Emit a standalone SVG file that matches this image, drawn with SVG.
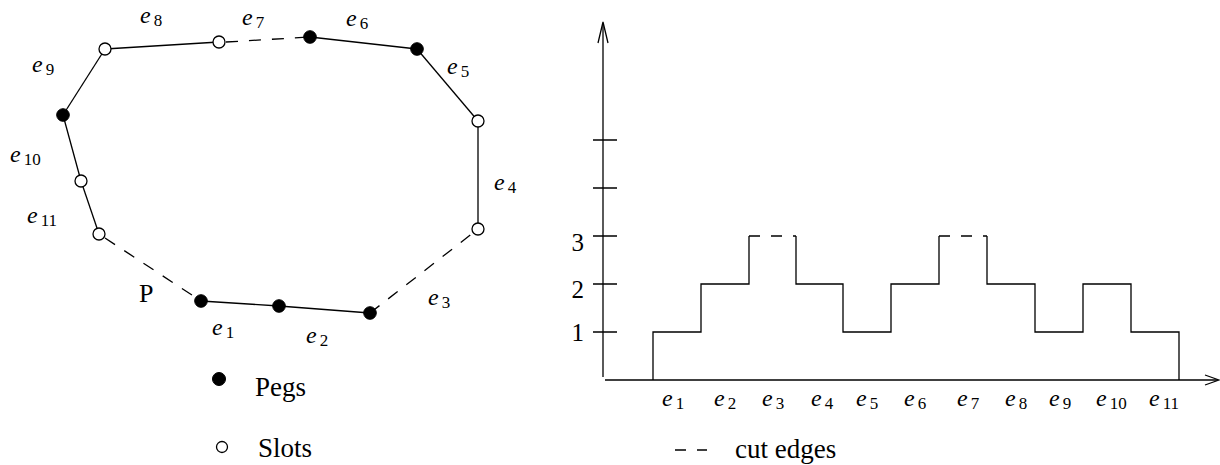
<svg xmlns="http://www.w3.org/2000/svg" width="1220" height="465" viewBox="0 0 1220 465">
<style>
.ln{stroke:#000;stroke-width:1.3;fill:none}
.ds{stroke:#000;stroke-width:1.3;fill:none;stroke-dasharray:12 11}
.cd{stroke:#000;stroke-width:1.3;fill:none;stroke-dasharray:11 11}
.peg{fill:#000;stroke:#000;stroke-width:1}
.slot{fill:#fff;stroke:#000;stroke-width:1.3}
.e{font-family:"Liberation Serif",serif;font-style:italic;font-size:24px;fill:#000}
.s{font-style:normal;font-size:17px}
.t{font-family:"Liberation Serif",serif;font-size:27px;fill:#000}
.n{font-family:"Liberation Serif",serif;font-size:25px;fill:#000}
</style>
<rect width="1220" height="465" fill="#fff"/>
<g id="connectors">
<line class="ln" x1="201" y1="301" x2="279" y2="306"/>
<line class="ln" x1="279" y1="306" x2="370" y2="313"/>
<line class="ds" x1="370" y1="313" x2="478" y2="229"/>
<line class="ln" x1="478" y1="229" x2="478" y2="121"/>
<line class="ln" x1="478" y1="121" x2="417" y2="49"/>
<line class="ln" x1="417" y1="49" x2="310" y2="37"/>
<line class="ds" x1="226" y1="42" x2="310" y2="37"/>
<line class="ln" x1="219" y1="42" x2="105" y2="49"/>
<line class="ln" x1="105" y1="49" x2="63" y2="115"/>
<line class="ln" x1="63" y1="115" x2="81" y2="181"/>
<line class="ln" x1="81" y1="181" x2="99" y2="234"/>
<line class="ds" x1="105" y1="238" x2="201" y2="301"/>
</g>
<g id="n1"><circle class="peg" cx="201" cy="301" r="6.3"/></g>
<g id="n2"><circle class="peg" cx="279" cy="306" r="6.3"/></g>
<g id="n3"><circle class="peg" cx="370" cy="313" r="6.3"/></g>
<g id="n4"><circle class="slot" cx="478" cy="229" r="6"/></g>
<g id="n5"><circle class="slot" cx="478" cy="121" r="6"/></g>
<g id="n6"><circle class="peg" cx="417" cy="49" r="6.3"/></g>
<g id="n7"><circle class="peg" cx="310" cy="37" r="6.3"/></g>
<g id="n8"><circle class="slot" cx="219" cy="42" r="6"/></g>
<g id="n9"><circle class="slot" cx="105" cy="49" r="6"/></g>
<g id="n10"><circle class="peg" cx="63" cy="115" r="6.3"/></g>
<g id="n11"><circle class="slot" cx="81" cy="181" r="6"/></g>
<g id="n12"><circle class="slot" cx="99" cy="234" r="6"/></g>
<g id="edge-labels">
<text class="e" x="140" y="23">e<tspan class="s" dx="3" dy="3">8</tspan></text>
<text class="e" x="242" y="25">e<tspan class="s" dx="3" dy="3">7</tspan></text>
<text class="e" x="346" y="26">e<tspan class="s" dx="3" dy="3">6</tspan></text>
<text class="e" x="447" y="74">e<tspan class="s" dx="3" dy="3">5</tspan></text>
<text class="e" x="494" y="190">e<tspan class="s" dx="3" dy="3">4</tspan></text>
<text class="e" x="428" y="305">e<tspan class="s" dx="3" dy="3">3</tspan></text>
<text class="e" x="306" y="343">e<tspan class="s" dx="3" dy="3">2</tspan></text>
<text class="e" x="212" y="335">e<tspan class="s" dx="3" dy="3">1</tspan></text>
<text class="e" x="32" y="72">e<tspan class="s" dx="3" dy="3">9</tspan></text>
<text class="e" x="10" y="162">e<tspan class="s" dx="3" dy="3">10</tspan></text>
<text class="e" x="27" y="223">e<tspan class="s" dx="3" dy="3">11</tspan></text>
<text class="t" x="139" y="302" style="font-size:26px">P</text>
</g>
<g id="legend">
<circle class="peg" cx="219" cy="379" r="6.5"/>
<text class="t" x="255" y="396">Pegs</text>
<circle class="slot" cx="222" cy="447" r="5.5"/>
<text class="t" x="258" y="457">Slots</text>
<line class="cd" x1="675" y1="450" x2="707" y2="450"/>
<text class="t" x="735" y="458">cut edges</text>
</g>
<g id="chart">
<line class="ln" x1="603" y1="23" x2="603" y2="377"/>
<polyline class="ln" points="598,43 603,22 608,43"/>
<line class="ln" x1="605" y1="380" x2="1218" y2="380"/>
<polyline class="ln" points="1205,375 1219,380 1205,385"/>
<path class="ln" d="M593,140H617M593,188H617M593,236H617M593,284H617M593,332H617"/>
<text class="n" x="584" y="251" text-anchor="end">3</text>
<text class="n" x="584" y="298" text-anchor="end">2</text>
<text class="n" x="584" y="341" text-anchor="end">1</text>
<path class="ln" d="M653,380V332H701V284H749V236M796,236V284H843V332H891V284H939V236M987,236V284H1035V332H1083V284H1131V332H1179V380"/>
<path class="cd" d="M749,236H796M939,236H987"/>
<text class="e" x="662" y="406">e<tspan class="s" dx="3" dy="3">1</tspan></text>
<text class="e" x="714" y="406">e<tspan class="s" dx="3" dy="3">2</tspan></text>
<text class="e" x="762" y="406">e<tspan class="s" dx="3" dy="3">3</tspan></text>
<text class="e" x="811" y="406">e<tspan class="s" dx="3" dy="3">4</tspan></text>
<text class="e" x="856" y="406">e<tspan class="s" dx="3" dy="3">5</tspan></text>
<text class="e" x="904" y="406">e<tspan class="s" dx="3" dy="3">6</tspan></text>
<text class="e" x="957" y="406">e<tspan class="s" dx="3" dy="3">7</tspan></text>
<text class="e" x="1005" y="406">e<tspan class="s" dx="3" dy="3">8</tspan></text>
<text class="e" x="1049" y="406">e<tspan class="s" dx="3" dy="3">9</tspan></text>
<text class="e" x="1096" y="406">e<tspan class="s" dx="3" dy="3">10</tspan></text>
<text class="e" x="1149" y="406">e<tspan class="s" dx="3" dy="3">11</tspan></text>
</g>
</svg>
